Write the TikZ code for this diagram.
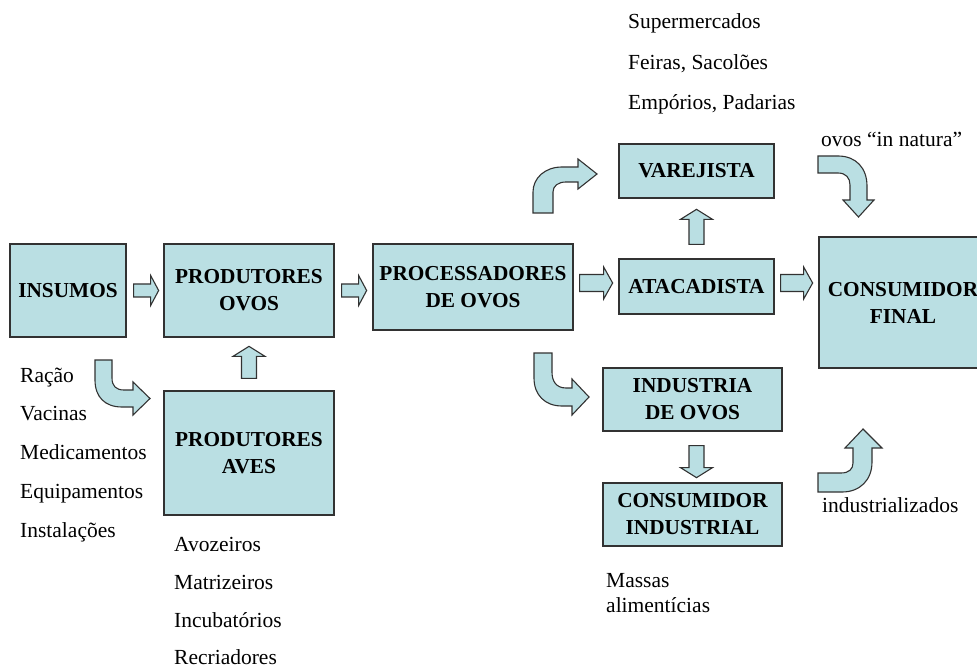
\documentclass[tikz,border=0pt]{standalone}
\usepackage{fontspec}
\setmainfont{Liberation Serif}
\usetikzlibrary{calc}
\definecolor{boxfill}{RGB}{186,223,227}
\definecolor{boxline}{RGB}{50,50,50}
\newcommand{\blockarr}[6]{% #1 tail, #2 rotation, #3 length, #4 head length, #5 shaft half, #6 head half
  \draw[barrow, shift={#1}, rotate=#2] (0,-#5) -- ({#3-#4},-#5) -- ({#3-#4},-#6) -- (#3,0) -- ({#3-#4},#6) -- ({#3-#4},#5) -- (0,#5) -- cycle;}
\begin{document}
\begin{tikzpicture}[x=1pt,y=-1pt,
  box/.style={draw=boxline, line width=1.3pt, fill=boxfill, rectangle, inner sep=0pt, align=center,
    font=\bfseries\fontsize{21.3}{27}\selectfont},
  barrow/.style={draw=boxline, line width=1.1pt, fill=boxfill, line join=miter},
  lbl/.style={anchor=base west, inner sep=0pt, font=\fontsize{21.5}{26}\selectfont}]
\useasboundingbox (0,0) rectangle (977,668);
\fill[white] (0,0) rectangle (977,668);
% boxes
\node[box, minimum width=116pt, minimum height=93pt] (ins) at (68,290.5) {INSUMOS};
\node[box, minimum width=170pt, minimum height=93pt] (po) at (249,290.5) {PRODUTORES\\OVOS};
\node[box, minimum width=200pt, minimum height=86pt] (proc) at (473,287) {PROCESSADORES\\DE OVOS};
\node[box, minimum width=155pt, minimum height=54pt] (var) at (696.5,171) {VAREJISTA};
\node[box, minimum width=155pt, minimum height=55pt] (atac) at (696.5,286.5) {ATACADISTA};
\node[box, minimum width=168pt, minimum height=131pt] (cf) at (903,302.5) {CONSUMIDOR\\FINAL};
\node[box, minimum width=179pt, minimum height=63pt] (ind) at (692.5,399.5) {INDUSTRIA\\DE OVOS};
\node[box, minimum width=179pt, minimum height=63pt] (ci) at (692.5,514.5) {CONSUMIDOR\\INDUSTRIAL};
\node[box, minimum width=170pt, minimum height=124pt] (pa) at (249,453) {PRODUTORES\\AVES};
% straight block arrows
\blockarr{($(ins.east)+(7,0)$)}{0}{25}{8}{6.5}{15}
\blockarr{($(po.east)+(7,0)$)}{0}{25}{8}{6.5}{15}
\blockarr{($(proc.east)+(6,-4)$)}{0}{33}{9}{8.5}{16}
\blockarr{($(atac.east)+(6,-3.5)$)}{0}{32}{9}{8.5}{16}
\blockarr{($(atac.north)+(0,-14)$)}{90}{35}{10}{7.5}{16}
\blockarr{($(pa.north)+(0,-12)$)}{90}{32}{10}{7.5}{16}
\blockarr{($(ind.south)+(4,14)$)}{-90}{32}{10}{7.5}{16}
% curved block arrows
\draw[barrow] (95,360) -- (112,360) -- (112,378) .. controls (112,386) and (116,390) .. (124,390)
  -- (133,390) -- (133,382) -- (150,398.5) -- (133,415) -- (133,407) -- (122,407)
  .. controls (105,407) and (95,397) .. (95,380) -- cycle;
\draw[barrow] (534,353) -- (552,353) -- (552,372) .. controls (552,381) and (556,388) .. (566,388)
  -- (572,388) -- (572,379) -- (589,397) -- (572,415) -- (572,406) -- (562,406)
  .. controls (545,406) and (534,395) .. (534,378) -- cycle;
\draw[barrow] (533,213) -- (553,213) -- (553,192) .. controls (553,186) and (558,182) .. (566,182)
  -- (578,182) -- (578,189) -- (597,174) -- (578,159) -- (578,167) -- (562,167)
  .. controls (545,167) and (533,178) .. (533,192) -- cycle;
\draw[barrow] (818,156) -- (838,156) .. controls (856,156) and (867,168) .. (867,186)
  -- (867,200) -- (874,200) -- (858.5,217) -- (843,200) -- (850,200) -- (850,185)
  .. controls (850,178) and (846,173) .. (838,173) -- (818,173) -- cycle;
\draw[barrow] (818,492) -- (842,492) .. controls (860,492) and (872,480) .. (872,462)
  -- (872,448) -- (882,448) -- (863,429) -- (845,448) -- (853,448) -- (853,463)
  .. controls (853,469) and (849,473) .. (841,473) -- (818,473) -- cycle;
% labels
\node[lbl] (t1) at (628,29) {Supermercados};
\node[lbl] (t2) at (628,69.5) {Feiras, Sacolões};
\node[lbl] (t3) at (628,110) {Empórios, Padarias};
\node[lbl] (t4) at (821,147) {ovos “in natura”};
\node[lbl] (l1) at (20,382) {Ração};
\node[lbl] (l2) at (20,420) {Vacinas};
\node[lbl] (l3) at (20,459) {Medicamentos};
\node[lbl] (l4) at (20,498) {Equipamentos};
\node[lbl] (l5) at (20,537) {Instalações};
\node[lbl] (a1) at (174,551) {Avozeiros};
\node[lbl] (a2) at (174,589) {Matrizeiros};
\node[lbl] (a3) at (174,627) {Incubatórios};
\node[lbl] (a4) at (174,664) {Recriadores};
\node[lbl] (m1) at (606,587) {Massas};
\node[lbl] (m2) at (606,612) {alimentícias};
\node[lbl] (i1) at (822,512) {industrializados};
\end{tikzpicture}
\end{document}
